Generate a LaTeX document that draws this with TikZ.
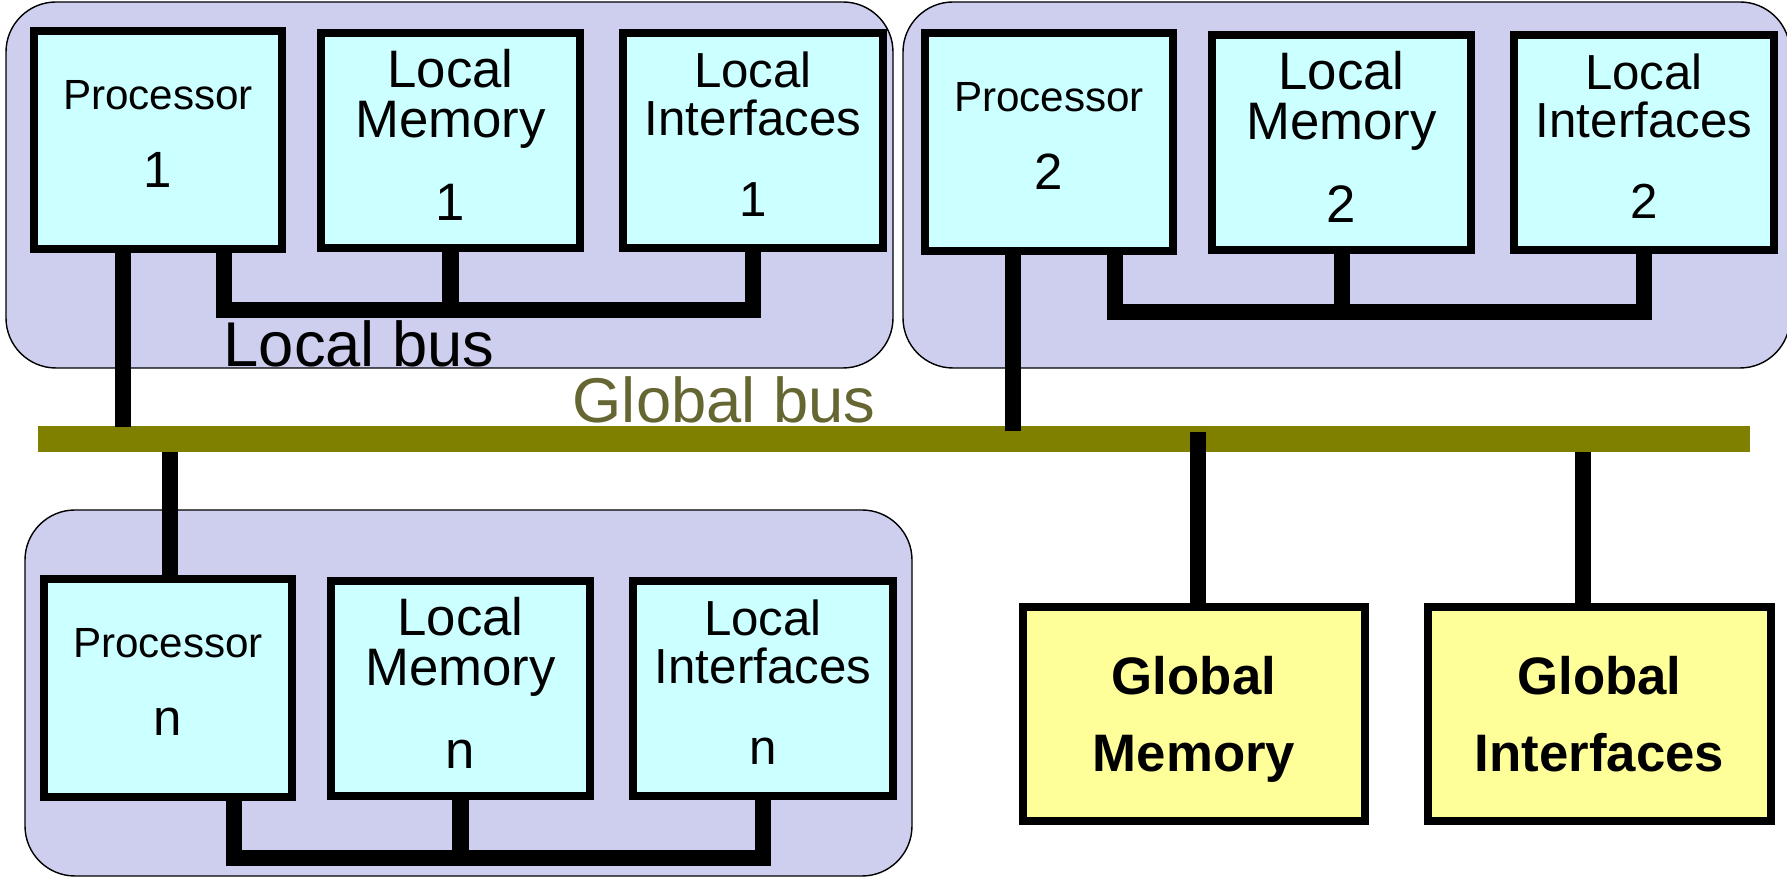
\documentclass[tikz,border=0pt]{standalone}
\usepackage{fontspec}
\setmainfont{Liberation Sans}
\usepackage{tikz}

\definecolor{groupfill}{RGB}{206,206,238}
\definecolor{boxfill}{RGB}{204,255,255}
\definecolor{globalfill}{RGB}{255,255,153}
\definecolor{busolive}{RGB}{128,128,0}
\definecolor{busdark}{RGB}{102,102,51}

\begin{document}
\begin{tikzpicture}[x=0.01cm, y=-0.01cm,
    group/.style={draw=black, line width=0.4pt, fill=groupfill, rounded corners=0.5cm},
    localbox/.style={draw, line width=0.08cm, fill=boxfill, align=center, inner sep=0pt, text depth=0.12cm},
    procbox/.style={localbox, minimum width=2.48cm, minimum height=2.18cm, font=\fontsize{12}{14}\selectfont},
    membox/.style={localbox, minimum width=2.59cm, minimum height=2.15cm, font=\fontsize{15}{14.2}\selectfont},
    ifacebox/.style={localbox, minimum width=2.6cm, minimum height=2.15cm, font=\fontsize{14}{13.7}\selectfont},
    globalbox/.style={draw, line width=0.08cm, fill=globalfill, align=center, inner sep=0pt, text depth=-0.08cm,
        minimum width=3.42cm, minimum height=2.14cm, font=\fontsize{15}{22}\selectfont\bfseries},
    localbus/.style={line width=0.16cm},
    link/.style={line width=0.16cm},
    globalbus/.style={line width=0.26cm, busolive},
    buslabel/.style={inner sep=0pt, anchor=base west, font=\fontsize{18}{20}\selectfont}]

    \useasboundingbox (0,0) rectangle (1787,880);

    % Processor groups with local bus
    \foreach \k/\gx/\gy/\bx/\by in {1/6/2/0/0, 2/903/2/891/2, n/25/510/10/548} {
        \draw[group] (\gx,\gy) rectangle ++(887,366);
        \node[procbox] (p\k) at ({158+\bx},{140+\by}) {Processor\\[8.4pt]{\fontsize{14.5}{14}\selectfont \k}};
        \node[membox] (m\k) at ({450.5+\bx},{140.5+\by}) {Local\\Memory\\[9.4pt]\k};
        \node[ifacebox] (i\k) at ({753+\bx},{140.5+\by}) {Local\\Interfaces\\[9.3pt]\k};
        \coordinate (lb\k) at ({224+\bx},{310+\by});
        \draw[localbus] (p\k.south -| lb\k) -- (lb\k) -| (i\k.south);
        \draw[localbus] (m\k.south) -- (m\k.south |- lb\k);
    }

    % Global bus
    \coordinate (gbl) at (38,439.5);
    \coordinate (gbr) at (1750,439.5);
    \draw[globalbus] (gbl) -- (gbr);

    % Global memory and interfaces
    \node[globalbox] (gm) at (1194,714) {Global\\Memory};
    \node[globalbox] (gi) at (1599.5,714) {Global\\Interfaces};

    % Taps on the global bus
    \coordinate (t1) at (123,427);
    \coordinate (t2) at (1013,431);
    \coordinate (tn) at (170,452);
    \coordinate (tgm) at (1198,432);
    \coordinate (tgi) at (1583,452);
    \draw[link] (p1.south -| t1) -- (t1);
    \draw[link] (p2.south -| t2) -- (t2);
    \draw[link] (tn) -- (pn.north -| tn);
    \draw[link] (tgm) -- (gm.north -| tgm);
    \draw[link] (tgi) -- (gi.north -| tgi);

    % Labels
    \node[buslabel] (lbus) at (223,367) {Local bus};
    \node[buslabel, text=busdark] (gbus) at (572,423) {Global bus};
\end{tikzpicture}
\end{document}
